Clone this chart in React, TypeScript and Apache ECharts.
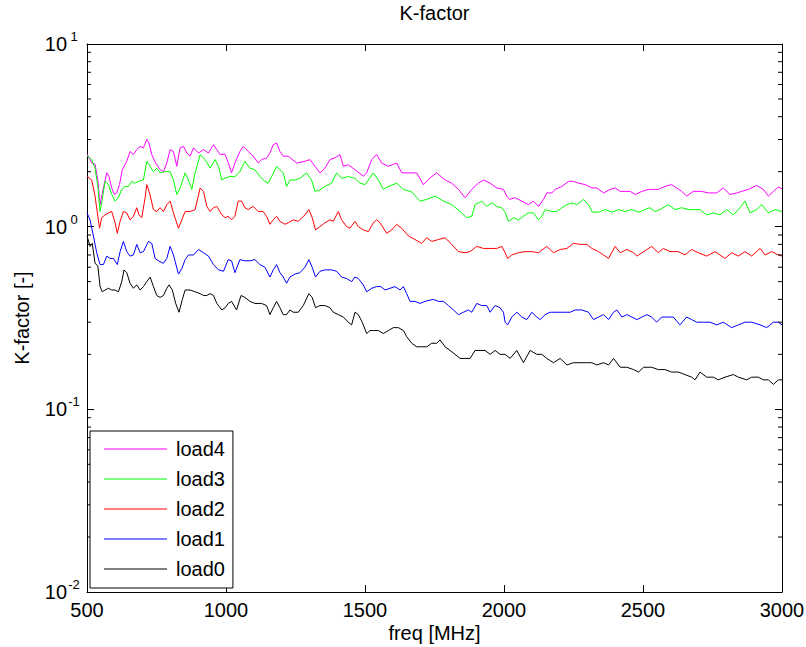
import React, { useEffect, useRef } from "react";
import * as echarts from "echarts";

const seriesNames = ["load4", "load3", "load2", "load1", "load0"];
const seriesColors = ["#ff00ff", "#00ff00", "#ff0000", "#0000ff", "#000000"];
const xTickValues = [500, 1000, 1500, 2000, 2500, 3000];
const minorTickValues = [
  0.02, 0.03, 0.04, 0.05, 0.06, 0.07, 0.08, 0.09,
  0.2, 0.3, 0.4, 0.5, 0.6, 0.7, 0.8, 0.9,
  2, 3, 4, 5, 6, 7, 8, 9,
];

const load4: [number, number][] = [
  [500, 2.5], [517, 2.23], [529, 2.2], [539, 1.8], [547, 1.32], [559, 1.63], [571, 1.97], [579, 1.88], [589, 1.63], [599, 1.5],
  [607, 1.53], [617, 1.7], [627, 2.05], [643, 2.28], [655, 2.58], [667, 2.48], [679, 2.64], [691, 2.75], [703, 2.7], [715, 3.0],
  [723, 2.87], [733, 2.48], [747, 2.23], [763, 2.05], [775, 2.0], [787, 2.23], [799, 2.64], [811, 2.58], [823, 2.14], [835, 2.7],
  [847, 2.75], [859, 2.53], [871, 2.43], [883, 2.7], [901, 2.53], [919, 2.64], [937, 2.53], [955, 2.81], [967, 2.64], [979, 2.48],
  [996, 2.5], [1010, 2.2], [1020, 1.97], [1032, 2.23], [1050, 2.58], [1062, 2.75], [1080, 2.58], [1098, 2.43], [1116, 2.23], [1128, 2.33],
  [1146, 2.38], [1158, 2.53], [1170, 2.81], [1182, 2.87], [1194, 2.58], [1206, 2.43], [1224, 2.43], [1254, 2.23], [1284, 2.28], [1302, 2.33],
  [1338, 1.97], [1356, 2.09], [1374, 2.33], [1392, 2.38], [1410, 2.48], [1422, 2.14], [1440, 2.18], [1464, 2.05], [1494, 1.89], [1506, 1.97],
  [1524, 2.33], [1542, 2.48], [1560, 2.23], [1584, 2.14], [1614, 2.23], [1632, 1.97], [1656, 1.97], [1686, 1.97], [1710, 1.7], [1734, 1.85],
  [1758, 1.97], [1788, 1.8], [1812, 1.73], [1836, 1.6], [1860, 1.44], [1884, 1.6], [1908, 1.73], [1926, 1.8], [1950, 1.73], [1974, 1.63],
  [1998, 1.6], [2010, 1.47], [2020, 1.41], [2040, 1.44], [2064, 1.38], [2088, 1.32], [2106, 1.38], [2124, 1.29], [2142, 1.41], [2154, 1.53],
  [2172, 1.53], [2184, 1.6], [2208, 1.66], [2232, 1.77], [2250, 1.77], [2268, 1.73], [2292, 1.7], [2316, 1.63], [2334, 1.63], [2358, 1.53],
  [2382, 1.6], [2400, 1.63], [2418, 1.56], [2436, 1.56], [2454, 1.56], [2472, 1.5], [2496, 1.56], [2520, 1.6], [2531, 1.6], [2555, 1.6],
  [2579, 1.66], [2603, 1.7], [2621, 1.63], [2639, 1.56], [2657, 1.47], [2681, 1.56], [2711, 1.56], [2735, 1.53], [2765, 1.53], [2789, 1.63],
  [2813, 1.5], [2837, 1.53], [2855, 1.56], [2879, 1.6], [2909, 1.68], [2933, 1.6], [2951, 1.47], [2969, 1.56], [2987, 1.65], [3000, 1.61],
];

const load3: [number, number][] = [
  [500, 2.45], [517, 2.33], [529, 2.09], [539, 1.66], [547, 1.21], [555, 1.41], [565, 1.77], [577, 1.7], [589, 1.5], [601, 1.38],
  [613, 1.44], [625, 1.6], [637, 1.66], [649, 1.66], [661, 1.77], [673, 1.73], [685, 1.77], [703, 1.8], [715, 2.28], [727, 2.14],
  [739, 2.0], [751, 2.09], [763, 1.97], [781, 2.0], [799, 2.0], [811, 1.8], [823, 1.5], [835, 1.63], [853, 1.97], [865, 1.8],
  [877, 1.6], [889, 1.97], [907, 2.48], [925, 2.33], [943, 2.09], [961, 2.33], [973, 2.14], [985, 1.8], [997, 1.85], [1014, 1.88],
  [1032, 1.88], [1050, 2.0], [1068, 2.28], [1086, 2.09], [1104, 2.05], [1122, 1.88], [1140, 1.77], [1152, 1.73], [1164, 1.88], [1182, 2.14],
  [1194, 2.05], [1206, 1.97], [1218, 1.66], [1230, 1.8], [1248, 1.8], [1266, 1.84], [1290, 1.97], [1308, 1.8], [1320, 1.56], [1338, 1.59],
  [1356, 1.66], [1380, 1.73], [1398, 1.97], [1416, 1.84], [1440, 1.88], [1464, 1.84], [1482, 1.73], [1500, 1.7], [1512, 1.8], [1530, 1.97],
  [1548, 1.8], [1566, 1.6], [1584, 1.66], [1614, 1.73], [1638, 1.6], [1668, 1.55], [1698, 1.38], [1722, 1.41], [1752, 1.47], [1782, 1.38],
  [1812, 1.32], [1842, 1.21], [1866, 1.12], [1884, 1.14], [1896, 1.32], [1920, 1.38], [1938, 1.29], [1956, 1.35], [1974, 1.29], [1992, 1.27],
  [2004, 1.2], [2016, 1.07], [2034, 1.12], [2052, 1.09], [2070, 1.14], [2088, 1.19], [2106, 1.19], [2124, 1.09], [2136, 1.14], [2148, 1.24],
  [2172, 1.21], [2190, 1.21], [2208, 1.27], [2226, 1.32], [2244, 1.35], [2262, 1.32], [2286, 1.41], [2304, 1.32], [2318, 1.2], [2340, 1.2],
  [2364, 1.24], [2388, 1.2], [2412, 1.24], [2436, 1.21], [2460, 1.24], [2484, 1.2], [2507, 1.24], [2525, 1.27], [2543, 1.21], [2561, 1.24],
  [2591, 1.32], [2615, 1.24], [2639, 1.27], [2663, 1.24], [2705, 1.24], [2729, 1.16], [2753, 1.19], [2777, 1.16], [2801, 1.24], [2825, 1.16],
  [2849, 1.27], [2867, 1.38], [2885, 1.19], [2909, 1.24], [2927, 1.32], [2951, 1.19], [2975, 1.24], [3000, 1.21],
];

const load2: [number, number][] = [
  [500, 1.89], [517, 1.8], [529, 1.47], [539, 1.14], [545, 0.98], [553, 1.12], [565, 1.16], [577, 1.19], [589, 1.21], [601, 1.05],
  [609, 0.92], [619, 1.07], [631, 1.21], [643, 1.19], [655, 1.09], [667, 1.14], [679, 1.27], [687, 1.16], [697, 1.12], [709, 1.44],
  [715, 1.7], [725, 1.53], [739, 1.24], [751, 1.21], [763, 1.27], [775, 1.21], [787, 1.32], [799, 1.38], [811, 1.19], [829, 0.98],
  [841, 1.09], [853, 1.21], [871, 1.21], [889, 1.24], [907, 1.63], [919, 1.56], [931, 1.29], [943, 1.21], [955, 1.27], [967, 1.29],
  [985, 1.16], [997, 1.12], [1008, 1.14], [1020, 1.09], [1032, 1.14], [1044, 1.38], [1056, 1.38], [1068, 1.27], [1080, 1.24], [1098, 1.29],
  [1116, 1.21], [1134, 1.21], [1146, 1.14], [1158, 1.03], [1170, 1.09], [1182, 1.14], [1194, 1.07], [1212, 1.03], [1224, 1.05], [1242, 1.09],
  [1260, 1.07], [1284, 1.16], [1298, 1.24], [1310, 1.12], [1322, 0.96], [1338, 1.0], [1356, 1.05], [1374, 1.09], [1386, 1.07], [1404, 1.21],
  [1416, 1.09], [1434, 1.0], [1446, 0.98], [1464, 1.07], [1476, 1.0], [1494, 0.96], [1512, 0.94], [1530, 1.05], [1542, 1.09], [1554, 1.05],
  [1578, 0.92], [1596, 0.96], [1614, 1.03], [1632, 0.98], [1656, 0.89], [1680, 0.85], [1704, 0.81], [1722, 0.87], [1740, 0.83], [1764, 0.85],
  [1788, 0.87], [1812, 0.8], [1836, 0.73], [1860, 0.72], [1878, 0.73], [1902, 0.78], [1926, 0.76], [1950, 0.76], [1974, 0.76], [1992, 0.78],
  [2004, 0.72], [2013, 0.67], [2028, 0.7], [2052, 0.72], [2076, 0.73], [2100, 0.73], [2124, 0.72], [2154, 0.78], [2178, 0.72], [2202, 0.75],
  [2226, 0.76], [2250, 0.81], [2274, 0.8], [2298, 0.8], [2316, 0.76], [2340, 0.73], [2358, 0.7], [2376, 0.67], [2400, 0.78], [2418, 0.72],
  [2442, 0.75], [2466, 0.72], [2478, 0.69], [2496, 0.72], [2514, 0.75], [2531, 0.78], [2555, 0.72], [2573, 0.76], [2597, 0.73], [2627, 0.73],
  [2651, 0.7], [2675, 0.75], [2699, 0.72], [2729, 0.69], [2759, 0.73], [2795, 0.67], [2819, 0.72], [2843, 0.69], [2867, 0.73], [2891, 0.69],
  [2921, 0.76], [2939, 0.7], [2963, 0.73], [2987, 0.7], [3000, 0.69],
];

const load1: [number, number][] = [
  [500, 1.19], [511, 1.09], [523, 0.89], [535, 0.72], [547, 0.62], [559, 0.62], [571, 0.69], [583, 0.67], [595, 0.67], [609, 0.62],
  [619, 0.73], [631, 0.83], [643, 0.73], [655, 0.69], [667, 0.7], [679, 0.8], [691, 0.72], [703, 0.73], [721, 0.83], [733, 0.81],
  [745, 0.67], [757, 0.65], [775, 0.63], [787, 0.67], [799, 0.78], [811, 0.7], [829, 0.55], [841, 0.59], [853, 0.66], [865, 0.7],
  [883, 0.7], [901, 0.75], [919, 0.72], [937, 0.69], [955, 0.62], [973, 0.58], [991, 0.57], [1008, 0.66], [1020, 0.65], [1032, 0.56],
  [1050, 0.66], [1068, 0.65], [1086, 0.65], [1104, 0.66], [1122, 0.62], [1140, 0.6], [1158, 0.53], [1170, 0.58], [1182, 0.62], [1194, 0.56],
  [1206, 0.53], [1218, 0.49], [1230, 0.53], [1248, 0.55], [1266, 0.56], [1284, 0.6], [1298, 0.66], [1310, 0.6], [1322, 0.53], [1338, 0.57],
  [1356, 0.58], [1380, 0.58], [1398, 0.57], [1416, 0.53], [1434, 0.52], [1452, 0.5], [1464, 0.53], [1476, 0.52], [1494, 0.48], [1506, 0.44],
  [1524, 0.46], [1542, 0.47], [1557, 0.47], [1572, 0.45], [1590, 0.46], [1608, 0.47], [1626, 0.45], [1638, 0.47], [1650, 0.43], [1662, 0.39],
  [1680, 0.39], [1698, 0.38], [1716, 0.39], [1746, 0.4], [1764, 0.39], [1782, 0.39], [1800, 0.37], [1818, 0.35], [1836, 0.33], [1854, 0.34],
  [1872, 0.35], [1884, 0.34], [1902, 0.38], [1920, 0.37], [1938, 0.37], [1950, 0.34], [1968, 0.37], [1986, 0.36], [1998, 0.34], [2004, 0.3],
  [2013, 0.29], [2028, 0.32], [2046, 0.34], [2064, 0.32], [2082, 0.31], [2100, 0.34], [2118, 0.32], [2130, 0.31], [2148, 0.33], [2166, 0.34],
  [2202, 0.34], [2220, 0.34], [2238, 0.34], [2256, 0.35], [2280, 0.35], [2304, 0.34], [2322, 0.31], [2340, 0.32], [2358, 0.33], [2376, 0.31],
  [2394, 0.34], [2406, 0.35], [2424, 0.32], [2442, 0.33], [2460, 0.32], [2478, 0.31], [2496, 0.32], [2514, 0.33], [2531, 0.32], [2549, 0.3],
  [2567, 0.32], [2591, 0.32], [2609, 0.32], [2633, 0.29], [2657, 0.32], [2675, 0.31], [2693, 0.3], [2717, 0.3], [2741, 0.3], [2765, 0.29],
  [2789, 0.3], [2819, 0.28], [2843, 0.29], [2867, 0.3], [2891, 0.3], [2921, 0.29], [2945, 0.28], [2969, 0.3], [2987, 0.3], [3000, 0.29],
];

const load0: [number, number][] = [
  [500, 0.89], [511, 0.78], [519, 0.81], [529, 0.63], [539, 0.61], [547, 0.47], [555, 0.44], [565, 0.45], [577, 0.46], [589, 0.45],
  [601, 0.45], [613, 0.44], [625, 0.5], [633, 0.58], [643, 0.56], [655, 0.49], [667, 0.46], [679, 0.48], [691, 0.45], [703, 0.47],
  [715, 0.5], [727, 0.53], [739, 0.47], [751, 0.42], [763, 0.41], [775, 0.42], [787, 0.46], [795, 0.48], [807, 0.45], [819, 0.38],
  [831, 0.34], [843, 0.4], [853, 0.45], [871, 0.45], [889, 0.44], [907, 0.43], [919, 0.42], [931, 0.42], [943, 0.43], [955, 0.42],
  [967, 0.38], [985, 0.35], [997, 0.36], [1008, 0.38], [1020, 0.39], [1038, 0.35], [1054, 0.42], [1068, 0.41], [1086, 0.39], [1104, 0.38],
  [1128, 0.38], [1146, 0.37], [1158, 0.33], [1170, 0.36], [1182, 0.39], [1194, 0.36], [1206, 0.33], [1218, 0.33], [1230, 0.35], [1242, 0.34],
  [1260, 0.34], [1278, 0.37], [1298, 0.43], [1310, 0.41], [1322, 0.36], [1338, 0.37], [1356, 0.37], [1374, 0.36], [1386, 0.34], [1404, 0.33],
  [1422, 0.32], [1440, 0.3], [1452, 0.29], [1464, 0.34], [1476, 0.33], [1490, 0.3], [1506, 0.26], [1518, 0.27], [1530, 0.27], [1548, 0.27],
  [1566, 0.26], [1584, 0.27], [1602, 0.28], [1620, 0.28], [1638, 0.27], [1650, 0.25], [1668, 0.23], [1686, 0.22], [1704, 0.22], [1722, 0.22],
  [1740, 0.23], [1758, 0.23], [1770, 0.24], [1788, 0.22], [1806, 0.21], [1824, 0.2], [1842, 0.19], [1860, 0.19], [1878, 0.19], [1896, 0.21],
  [1914, 0.21], [1932, 0.21], [1950, 0.2], [1968, 0.21], [1986, 0.2], [2004, 0.2], [2022, 0.19], [2046, 0.21], [2070, 0.18], [2094, 0.21],
  [2118, 0.2], [2136, 0.2], [2154, 0.19], [2178, 0.18], [2202, 0.19], [2226, 0.175], [2250, 0.18], [2274, 0.18], [2298, 0.18], [2316, 0.18],
  [2334, 0.175], [2358, 0.18], [2376, 0.175], [2394, 0.19], [2418, 0.17], [2442, 0.17], [2466, 0.165], [2484, 0.16], [2502, 0.17], [2531, 0.17],
  [2555, 0.165], [2579, 0.165], [2603, 0.16], [2627, 0.16], [2651, 0.155], [2675, 0.15], [2687, 0.145], [2705, 0.16], [2729, 0.15], [2753, 0.15],
  [2771, 0.145], [2795, 0.15], [2825, 0.155], [2843, 0.15], [2873, 0.145], [2891, 0.15], [2915, 0.15], [2933, 0.145], [2951, 0.145], [2969, 0.137],
  [2987, 0.145], [3000, 0.145],
];

const seriesData = [load4, load3, load2, load1, load0];

const FONT = '"Liberation Sans", Arial, Helvetica, sans-serif';

export default function App() {
  const ref = useRef<HTMLDivElement>(null);

  useEffect(() => {
    if (!ref.current) return;
    const chart = echarts.init(ref.current, null, { renderer: "svg" });

    const axisLineStyle = { show: true, lineStyle: { color: "#000", width: 1 } };
    const tickStyle = { show: true, inside: true, length: 7, lineStyle: { color: "#000", width: 1 } };

    const yLabel = {
      show: true,
      margin: 6,
      formatter: (v: number) => `{b|10}{s|${Math.round(Math.log10(v))}}`,
      rich: {
        b: { fontSize: 20, lineHeight: 28, fontFamily: FONT, color: "#000", verticalAlign: "middle" },
        s: { fontSize: 13, lineHeight: 6, fontFamily: FONT, color: "#000", verticalAlign: "top", width: 14, align: "left" },
      },
    };

    const lineSeries = seriesNames.map((name, i) => ({
      name,
      type: "line",
      data: seriesData[i],
      xAxisIndex: 0,
      yAxisIndex: 0,
      showSymbol: false,
      symbol: "none",
      lineStyle: { color: seriesColors[i], width: 1 },
      itemStyle: { color: seriesColors[i] },
      z: 2,
    }));

    const minorTicks = {
      type: "custom",
      coordinateSystem: "cartesian2d",
      xAxisIndex: 0,
      yAxisIndex: 0,
      silent: true,
      z: 3,
      data: minorTickValues.map((v) => [xTickValues[0], v]),
      renderItem: (params: any, api: any) => {
        const v = api.value(1);
        const pl = api.coord([xTickValues[0], v]);
        const pr = api.coord([xTickValues[xTickValues.length - 1], v]);
        return {
          type: "group",
          children: [
            { type: "line", shape: { x1: pl[0], y1: pl[1], x2: pl[0] + 4, y2: pl[1] }, style: { stroke: "#000", lineWidth: 1 } },
            { type: "line", shape: { x1: pr[0], y1: pr[1], x2: pr[0] - 4, y2: pr[1] }, style: { stroke: "#000", lineWidth: 1 } },
          ],
        };
      },
    };

    chart.setOption({
      animation: false,
      backgroundColor: "#fff",
      textStyle: { fontFamily: FONT },
      grid: { left: 87, right: 24, top: 44, bottom: 55, containLabel: false, outerBoundsMode: "none", show: false },
      legend: {
        data: seriesNames,
        orient: "vertical",
        left: 90,
        top: 431,
        icon: "rect",
        itemWidth: 63,
        itemHeight: 1,
        itemGap: 10,
        padding: [8, 8, 9, 14],
        backgroundColor: "#fff",
        borderColor: "#000",
        borderWidth: 1,
        borderRadius: 0,
        selectedMode: false,
        textStyle: { fontSize: 20, fontFamily: FONT, color: "#000", lineHeight: 20, padding: [0, 0, 0, 4] },
        z: 10,
      },
      xAxis: [
        {
          type: "value",
          position: "bottom",
          min: 500,
          max: 3000,
          interval: 500,
          name: "freq [MHz]",
          nameLocation: "middle",
          nameGap: 31,
          nameMoveOverlap: false,
          nameTextStyle: { fontSize: 20, fontFamily: FONT, color: "#000" },
          axisLine: axisLineStyle,
          axisTick: tickStyle,
          axisLabel: {
            show: true,
            fontSize: 20,
            fontFamily: FONT,
            color: "#000",
            margin: 8,
            formatter: (v: number) => String(v),
          },
          splitLine: { show: false },
        },
        {
          type: "value",
          position: "top",
          min: 500,
          max: 3000,
          interval: 500,
          name: "K-factor",
          nameLocation: "middle",
          nameGap: 21,
          nameMoveOverlap: false,
          nameTextStyle: { fontSize: 20, fontFamily: FONT, color: "#000" },
          axisLine: axisLineStyle,
          axisTick: tickStyle,
          axisLabel: { show: false },
          splitLine: { show: false },
        },
      ],
      yAxis: [
        {
          type: "log",
          logBase: 10,
          position: "left",
          min: 0.01,
          max: 10,
          name: "K-factor [-]",
          nameLocation: "middle",
          nameGap: 55,
          nameMoveOverlap: false,
          nameTextStyle: { fontSize: 20, fontFamily: FONT, color: "#000" },
          axisLine: axisLineStyle,
          axisTick: tickStyle,
          axisLabel: yLabel,
          splitLine: { show: false },
          minorTick: { show: false },
        },
        {
          type: "log",
          logBase: 10,
          position: "right",
          min: 0.01,
          max: 10,
          axisLine: axisLineStyle,
          axisTick: tickStyle,
          axisLabel: { show: false },
          splitLine: { show: false },
        },
      ],
      series: [...lineSeries, minorTicks],
    });

    return () => chart.dispose();
  }, []);

  return (
    <div
      ref={ref}
      style={{ position: "fixed", left: 0, top: 0, width: 806, height: 647, background: "#fff" }}
    />
  );
}
